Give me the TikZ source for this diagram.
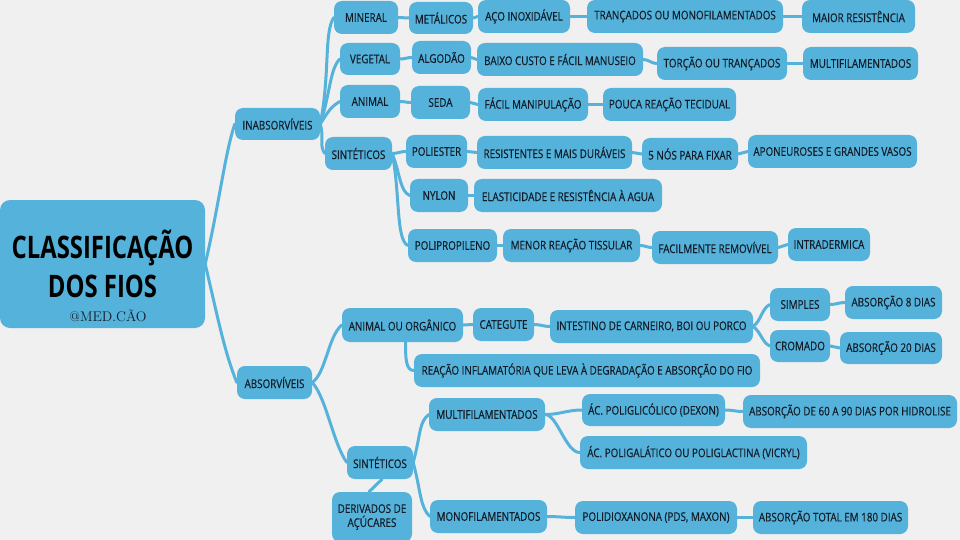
\documentclass[tikz,border=0pt]{standalone}
\usepackage{fontspec}
\newfontfamily\lblfont[FakeStretch=0.82,FakeBold=0.4]{Open Sans}
\newfontfamily\ttlfont[FakeStretch=0.77]{Open Sans}
\definecolor{bgcol}{HTML}{F0F0F0}
\definecolor{nodeblue}{HTML}{55B2DA}
\definecolor{txtcol}{HTML}{121C28}
\pgfdeclarelayer{bg}
\pgfdeclarelayer{lines}
\pgfsetlayers{bg,lines,main}
\tikzset{
  box/.style={rounded corners=8pt, fill=nodeblue, draw=none, inner sep=0pt,
    text=txtcol, align=center, font=\lblfont\fontsize{12}{14}\selectfont},
  conn/.style={draw=nodeblue, line width=3pt, line cap=round},
}
\newcommand\bx[6]{\node[box, minimum width={(#4-#2)*1pt}, minimum height={(#5-#3)*1pt}] (#1) at ({(#2+#4)/2},{(#3+#5)/2}) {#6};}
\begin{document}
\begin{tikzpicture}[x=1pt,y=-1pt]
\useasboundingbox (0,0) rectangle (960,540);
\begin{pgfonlayer}{bg}
\fill[bgcol] (0,0) rectangle (960,540);
\end{pgfonlayer}
% root
\node[box, rounded corners=10pt, minimum width=205pt, minimum height=128pt,
  font=\ttlfont\bfseries\fontsize{31}{39}\selectfont, text=black] (root) at (102.5,264) {CLASSIFICAÇÃO\\DOS FIOS};
\node[font=\rmfamily\fontsize{14}{16}\selectfont, text=txtcol, inner sep=0pt] (wm) at (108,316) {@MED.CÃO};
% inabsorviveis
\bx{inab}{235}{108}{320}{140}{INABSORVÍVEIS}
\bx{mineral}{334}{1}{398}{34}{MINERAL}
\bx{metal}{409}{2}{473}{34}{METÁLICOS}
\bx{aco}{478}{0}{570}{33}{AÇO INOXIDÁVEL}
\bx{tranc}{587}{0}{783}{33}{TRANÇADOS OU MONOFILAMENTADOS}
\bx{maior}{802}{0}{915}{33}{MAIOR RESISTÊNCIA}
\bx{veget}{340}{43}{400}{75}{VEGETAL}
\bx{algod}{412}{41}{471}{74}{ALGODÃO}
\bx{baixo}{477}{43}{643}{76}{BAIXO CUSTO E FÁCIL MANUSEIO}
\bx{torcao}{657}{47}{787}{80}{TORÇÃO OU TRANÇADOS}
\bx{multa}{803}{47}{918}{80}{MULTIFILAMENTADOS}
\bx{animal}{340}{85}{400}{118}{ANIMAL}
\bx{seda}{411}{86}{470}{119}{SEDA}
\bx{facil}{478}{88}{588}{121}{FÁCIL MANIPULAÇÃO}
\bx{pouca}{603}{88}{736}{121}{POUCA REAÇÃO TECIDUAL}
\bx{sint}{325}{137}{392}{170}{SINTÉTICOS}
\bx{poli}{406}{135}{467}{168}{POLIESTER}
\bx{resist}{477}{136}{632}{169}{RESISTENTES E MAIS DURÁVEIS}
\bx{nos}{642}{138}{738}{170}{5 NÓS PARA FIXAR}
\bx{apon}{748}{135}{917}{168}{APONEUROSES E GRANDES VASOS}
\bx{nylon}{410}{179}{468}{212}{NYLON}
\bx{elast}{474}{179}{662}{212}{ELASTICIDADE E RESISTÊNCIA À AGUA}
\bx{polip}{408}{229}{497}{262}{POLIPROPILENO}
\bx{menor}{503}{229}{640}{262}{MENOR REAÇÃO TISSULAR}
\bx{facilm}{652}{231}{778}{264}{FACILMENTE REMOVÍVEL}
\bx{intra}{788}{228}{870}{261}{INTRADERMICA}
% absorviveis
\bx{absor}{237}{366}{312}{399}{ABSORVÍVEIS}
\bx{aoo}{342}{308}{463}{342}{ANIMAL OU ORGÂNICO}
\bx{categ}{473}{308}{534}{341}{CATEGUTE}
\bx{intest}{550}{310}{753}{343}{INTESTINO DE CARNEIRO, BOI OU PORCO}
\bx{simples}{770}{288}{830}{321}{SIMPLES}
\bx{abs8}{845}{286}{942}{319}{ABSORÇÃO 8 DIAS}
\bx{cromado}{770}{330}{830}{362}{CROMADO}
\bx{abs20}{840}{332}{942}{364}{ABSORÇÃO 20 DIAS}
\bx{reacao}{414}{354}{760}{387}{REAÇÃO INFLAMATÓRIA QUE LEVA À DEGRADAÇÃO E ABSORÇÃO DO FIO}
\bx{sintb}{347}{446}{413}{479}{SINTÉTICOS}
\bx{deriv}{332}{492}{412}{542}{DERIVADOS DE\\AÇÚCARES}
\bx{multb}{429}{398}{545}{431}{MULTIFILAMENTADOS}
\bx{mono}{430}{500}{547}{533}{MONOFILAMENTADOS}
\bx{dexon}{582}{394}{725}{426}{ÁC. POLIGLICÓLICO (DEXON)}
\bx{abs60}{743}{395}{957}{428}{ABSORÇÃO DE 60 A 90 DIAS POR HIDROLISE}
\bx{vicryl}{580}{436}{807}{469}{ÁC. POLIGALÁTICO OU POLIGLACTINA (VICRYL)}
\bx{pdx}{575}{501}{737}{534}{POLIDIOXANONA (PDS, MAXON)}
\bx{abs180}{753}{501}{908}{534}{ABSORÇÃO TOTAL EM 180 DIAS}
% connectors
\begin{pgfonlayer}{lines}
\draw[conn] (root.east) .. controls +(14,-60) and +(-10,30) .. (inab.west);
\draw[conn] (root.east) .. controls +(14,60) and +(-12,-30) .. (absor.west);
\draw[conn] (inab.east) .. controls +(10,-50) and +(-10,15) .. (mineral.west);
\draw[conn] (inab.east) .. controls +(10,-30) and +(-10,10) .. (veget.west);
\draw[conn] (inab.east) .. controls +(8,-12) and +(-10,6) .. (animal.west);
\draw[conn] (inab.east) .. controls +(4,12) and +(-6,-8) .. (sint.west);
\draw[conn] (mineral) to[out=0,in=180] (metal);
\draw[conn] (metal) to[out=0,in=180] (aco);
\draw[conn] (aco) to[out=0,in=180] (tranc);
\draw[conn] (tranc) to[out=0,in=180] (maior);
\draw[conn] (veget) to[out=0,in=180] (algod);
\draw[conn] (algod.east) to[out=0,in=180] (baixo.west);
\draw[conn] (baixo.east) to[out=0,in=180] (torcao.west);
\draw[conn] (torcao.east) to[out=0,in=180] (multa.west);
\draw[conn] (animal) to[out=0,in=180] (seda);
\draw[conn] (seda.east) to[out=0,in=180] (facil.west);
\draw[conn] (facil.east) to[out=0,in=180] (pouca.west);
\draw[conn] (sint.east) to[out=0,in=180] (poli.west);
\draw[conn] (sint.east) .. controls +(8,20) and +(-10,-4) .. (nylon.west);
\draw[conn] (sint.east) .. controls +(8,40) and +(-12,-6) .. (polip.west);
\draw[conn] (poli.east) to[out=0,in=180] (resist.west);
\draw[conn] (resist.east) to[out=0,in=180] (nos.west);
\draw[conn] (nos.east) to[out=0,in=180] (apon.west);
\draw[conn] (nylon.east) to[out=0,in=180] (elast.west);
\draw[conn] (polip.east) to[out=0,in=180] (menor.west);
\draw[conn] (menor.east) to[out=0,in=180] (facilm.west);
\draw[conn] (facilm.east) to[out=0,in=180] (intra.west);
\draw[conn] (absor.east) .. controls +(14,-10) and +(-14,12) .. (aoo.west);
\draw[conn] (absor.east) .. controls +(14,15) and +(-14,-20) .. (sintb.west);
\draw[conn] (aoo.east) to[out=0,in=180] (categ.west);
\draw[conn] (categ.east) to[out=0,in=180] (intest.west);
\draw[conn] ([xshift=3pt]aoo.south) .. controls +(0,16) and +(-8,0) .. (reacao.west);
\draw[conn] (intest.east) .. controls +(8,-6) and +(-8,4) .. (simples.west);
\draw[conn] (intest.east) .. controls +(8,6) and +(-8,-4) .. (cromado.west);
\draw[conn] (simples.east) to[out=0,in=180] (abs8.west);
\draw[conn] (cromado.east) to[out=0,in=180] (abs20.west);
\draw[conn] (sintb.east) .. controls +(8,-30) and +(-10,8) .. (multb.west);
\draw[conn] (sintb.east) .. controls +(8,30) and +(-10,-10) .. (mono.west);
\draw[conn] ([xshift=2pt]sintb.south) -- ([xshift=-3pt]deriv.north);
\draw[conn] (multb.east) to[out=0,in=180] (dexon.west);
\draw[conn] (multb.east) .. controls +(12,0) and +(-14,0) .. (vicryl.west);
\draw[conn] (dexon.east) to[out=0,in=180] (abs60.west);
\draw[conn] (mono.east) to[out=0,in=180] (pdx.west);
\draw[conn] (pdx.east) to[out=0,in=180] (abs180.west);
\end{pgfonlayer}
\end{tikzpicture}
\end{document}
